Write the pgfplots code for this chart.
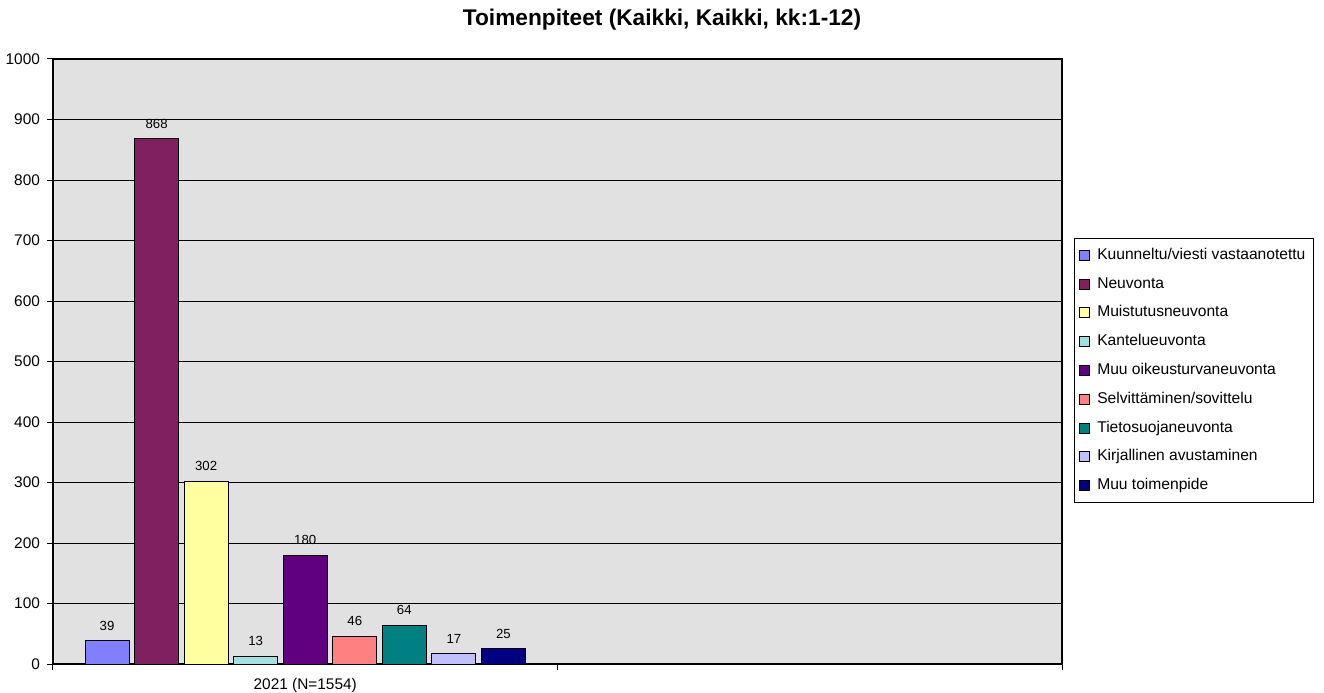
\documentclass[border=0pt]{standalone}
\usepackage{pgfplots}
\pgfplotsset{compat=1.18}
\usepackage{fontspec}
\setmainfont{Liberation Sans}
\definecolor{c1}{HTML}{8080FF}
\definecolor{c2}{HTML}{802060}
\definecolor{c3}{HTML}{FFFFA0}
\definecolor{c4}{HTML}{A0E0E0}
\definecolor{c5}{HTML}{600080}
\definecolor{c6}{HTML}{FF8080}
\definecolor{c7}{HTML}{008080}
\definecolor{c8}{HTML}{C0C0FF}
\definecolor{c9}{HTML}{000080}
\definecolor{bggray}{HTML}{E1E1E1}
\begin{document}
\begin{tikzpicture}
\useasboundingbox (-26.5pt,-14pt) rectangle (635.5pt,332pt);
\begin{axis}[
  at={(0,0)}, anchor=south west,
  scale only axis, width=504.5pt, height=302.5pt,
  xmin=0, xmax=2, ymin=0, ymax=1000,
  ytick={0,100,...,1000},
  xtick={0,1,2}, xticklabels={},
  extra x ticks={0.5}, extra x tick labels={2021 (N=1554)},
  extra x tick style={major tick length=0pt, grid=none, xticklabel style={yshift=-3.5pt}},
  xtick pos=bottom, ytick pos=left,
  ymajorgrids, grid style={black, line width=0.5pt},
  axis background/.style={fill=bggray},
  axis line style={black, line width=0.6pt},
  tick align=outside, major tick length=3pt, tick style={black, line width=0.5pt},
  ticklabel style={font=\fontsize{7.7}{9}\selectfont},
  /pgf/number format/assume math mode=true,
  /pgf/number format/1000 sep={},
  ybar,
  every axis plot post/.append style={bar shift=0pt, bar width=22pt, draw=black, line width=0.5pt,
    legend image code/.code={\draw[##1, line width=0.4pt] (0pt,-2.5pt) rectangle (5pt,2.5pt);}},
  nodes near coords, nodes near coords style={font=\fontsize{6.6}{8}\selectfont, black, yshift=1.5pt},
  title={Toimenpiteet (Kaikki, Kaikki, kk:1-12)},
  title style={font=\bfseries\fontsize{11.35}{13}\selectfont, at={(0.6036,1)}, anchor=center, yshift=13.5pt},
  legend style={at={(1,1)}, anchor=north west, xshift=6pt, yshift=-89.5pt, draw=black, line width=0.5pt,
    font=\fontsize{7.8}{9}\selectfont, cells={anchor=west}, row sep=3.25pt, inner xsep=2pt, inner ysep=3pt,
    /tikz/every odd column/.append style={column sep=2pt}},
  legend cell align=left,
]
\addplot[fill=c1] coordinates {(0.1072,39)};
\addlegendentry{Kuunneltu/viesti vastaanotettu}
\addplot[fill=c2] coordinates {(0.2054,868)};
\addlegendentry{Neuvonta}
\addplot[fill=c3] coordinates {(0.3036,302)};
\addlegendentry{Muistutusneuvonta}
\addplot[fill=c4] coordinates {(0.4018,13)};
\addlegendentry{Kantelueuvonta}
\addplot[fill=c5] coordinates {(0.5,180)};
\addlegendentry{Muu oikeusturvaneuvonta}
\addplot[fill=c6] coordinates {(0.5982,46)};
\addlegendentry{Selvittäminen/sovittelu}
\addplot[fill=c7] coordinates {(0.6964,64)};
\addlegendentry{Tietosuojaneuvonta}
\addplot[fill=c8] coordinates {(0.7946,17)};
\addlegendentry{Kirjallinen avustaminen}
\addplot[fill=c9] coordinates {(0.8928,25)};
\addlegendentry{Muu toimenpide}
\end{axis}
\end{tikzpicture}
\end{document}
